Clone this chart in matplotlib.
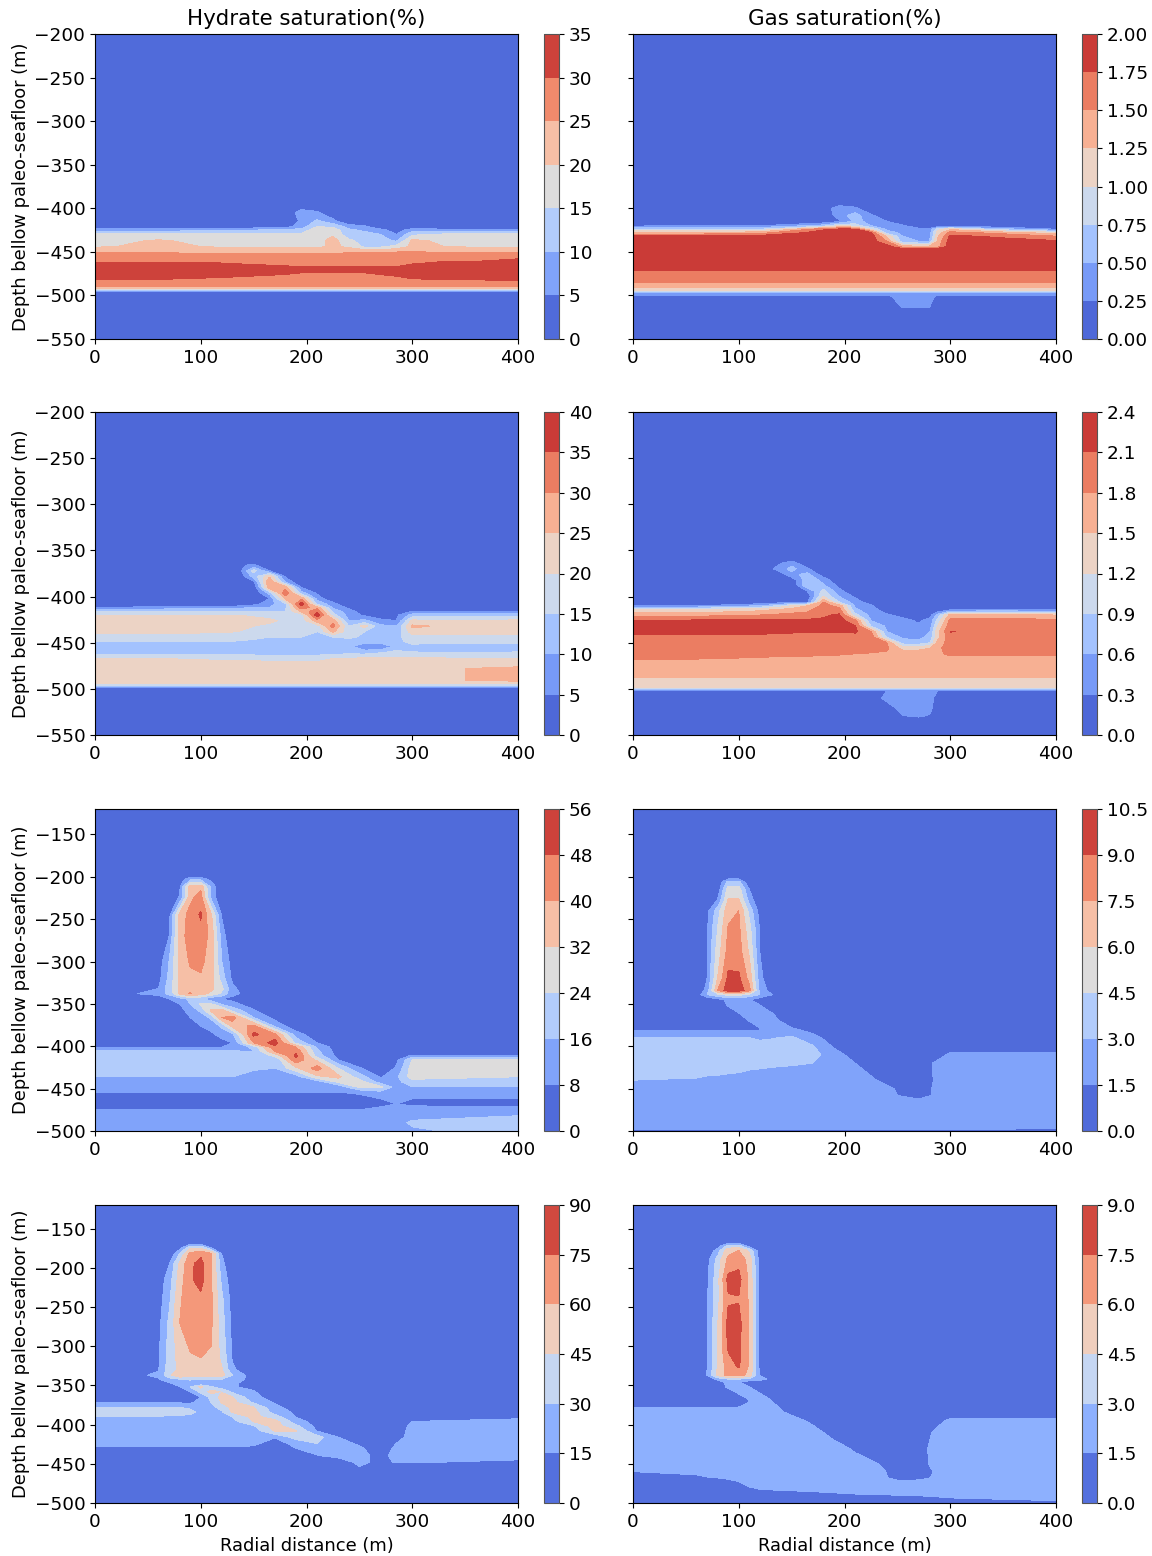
import matplotlib
matplotlib.use('Agg')
import matplotlib.pyplot as plt
import numpy as np

# radial stations (m), depth rows (m) and saturation, one table per panel

# ---- row 1, hydrate
R1 = [0, 60, 120, 180, 195, 210, 225, 240, 255, 270, 285, 300, 330, 360, 400]
D1 = [-200, -396, -405, -415, -421, -425, -430, -437, -444, -451, -458, -464, -470, -476, -482, -489, -492, -495, -500, -550]
S1 = [
    [0]*15,
    [0]*15,
    [0, 0, 0, 0, 8, 6, 0, 0, 0, 0, 0, 0, 0, 0, 0],
    [0, 0, 0, 0, 6, 11, 7, 0, 0, 0, 0, 0, 0, 0, 0],
    [0, 0, 0, 3, 7, 15, 14, 8, 6, 0, 0, 0, 0, 0, 0],
    [8, 8, 9, 11, 12, 18, 18, 11, 9, 7, 2, 8, 7, 7, 7],
    [16, 16, 16, 16, 16, 18, 19, 12, 12, 10, 5, 14, 16, 16, 16],
    [18, 20.5, 18, 18, 18, 18, 22, 16, 13, 12, 9, 21, 19, 18, 18],
    [19.5, 21, 19.5, 19, 19, 19, 21, 19, 14, 14, 17, 21, 20, 19.5, 19.5],
    [25, 25, 24.5, 24.5, 24.5, 24.5, 24.5, 25, 26, 26, 26, 26, 25, 25, 25],
    [28, 28, 28, 28, 28, 28, 28, 28, 28, 28, 29, 29, 29, 29, 30],
    [31, 31, 30.5, 29, 29, 29, 29, 29, 29, 29, 29, 30, 31, 31, 32],
    [33, 33, 33, 32, 31, 31, 31, 31, 31, 31, 31, 32, 33, 33, 33],
    [33, 33, 32, 30, 29.5, 29.5, 29.5, 29.5, 29.5, 30, 31, 32, 33, 33, 33],
    [30, 29.8, 28.5, 27, 27, 27, 26.5, 26.5, 27, 27, 28, 29.5, 30, 30, 31],
    [25.5]*15,
    [19]*15,
    [5]*15,
    [0]*15,
    [0]*15,
]
L1 = [0, 5, 10, 15, 20, 25, 30, 35]

# ---- row 1, gas
R2 = [0, 60, 120, 180, 195, 210, 225, 240, 255, 270, 280, 288, 300, 350, 400]
D2 = [-200, -392, -400, -408, -415, -420, -424, -428, -432, -438, -444, -447, -460, -471, -478, -485, -491, -494, -497, -501, -507, -514, -520, -550]
S2 = [
    [0]*15,
    [0]*15,
    [0, 0, 0, 0.1, 0.4, 0.3, 0, 0, 0, 0, 0, 0, 0, 0, 0],
    [0, 0, 0, 0, 0.4, 0.6, 0.3, 0, 0, 0, 0, 0, 0, 0, 0],
    [0, 0, 0, 0.05, 0.2, 0.55, 0.45, 0.25, 0, 0, 0, 0, 0, 0, 0],
    [0.2, 0.25, 0.25, 0.6, 1.0, 0.9, 0.5, 0.4, 0.3, 0, 0, 0, 0, 0, 0],
    [0.7, 0.7, 0.75, 1.7, 1.8, 1.8, 1.0, 0.45, 0.4, 0.35, 0.3, 0.9, 1.2, 0.6, 0.25],
    [1.3, 1.3, 1.4, 1.9, 1.9, 1.9, 1.8, 0.6, 0.45, 0.4, 0.35, 1.1, 1.6, 1.4, 1.1],
    [1.8, 1.8, 1.85, 1.9, 1.9, 1.9, 1.9, 1.2, 0.5, 0.4, 0.35, 1.2, 1.8, 1.7, 1.5],
    [1.9, 1.9, 1.9, 1.9, 1.9, 1.9, 1.9, 1.5, 0.6, 0.5, 0.5, 1.3, 1.9, 1.85, 1.8],
    [1.9, 1.9, 1.9, 1.9, 1.9, 1.9, 1.9, 1.9, 1.4, 1.3, 1.3, 1.4, 1.9, 1.9, 1.9],
    [1.9]*15,
    [1.9]*15,
    [1.75]*15,
    [1.62]*15,
    [1.5]*15,
    [1.27]*15,
    [1.0]*15,
    [0.42]*15,
    [0.2, 0.2, 0.2, 0.2, 0.2, 0.2, 0.2, 0.2, 0.35, 0.35, 0.35, 0.2, 0.2, 0.2, 0.2],
    [0, 0, 0, 0, 0, 0, 0, 0.1, 0.35, 0.35, 0.35, 0.05, 0, 0, 0],
    [0, 0, 0, 0, 0, 0, 0, 0, 0.26, 0.26, 0.26, 0, 0, 0, 0],
    [0]*15,
    [0]*15,
]
L2 = [0, 0.25, 0.5, 0.75, 1.0, 1.25, 1.5, 1.75, 2.0]

# ---- row 2, hydrate
R3 = [0, 60, 120, 135, 150, 165, 180, 195, 210, 225, 240, 255, 270, 285, 300, 350, 400]
D3 = [-200, -360, -366, -372, -378, -384, -390, -396, -402, -408, -412, -416, -420, -426, -432, -438, -444, -449, -454, -460, -467, -478, -491, -494, -496, -499, -503, -550]
S3 = [
    [0]*17,
    [0]*17,
    [0, 0, 0, 4, 6, 0, 0, 0, 0, 0, 0, 0, 0, 0, 0, 0, 0],
    [0, 0, 0, 1, 17, 5, 0, 0, 0, 0, 0, 0, 0, 0, 0, 0, 0],
    [0, 0, 0, 0, 12, 24, 4, 0, 0, 0, 0, 0, 0, 0, 0, 0, 0],
    [0, 0, 0, 0, 4, 30, 9, 0, 0, 0, 0, 0, 0, 0, 0, 0, 0],
    [0, 0, 0, 0, 0, 28, 28, 5, 0, 0, 0, 0, 0, 0, 0, 0, 0],
    [0, 0, 0, 0, 0, 12, 34, 12, 4, 0, 0, 0, 0, 0, 0, 0, 0],
    [0, 0, 0, 0, 0, 5, 26, 29, 8, 0, 0, 0, 0, 0, 0, 0, 0],
    [0, 0, 0, 0, 3, 8, 14, 38, 14, 7, 0, 0, 0, 0, 0, 0, 0],
    [5, 7, 8, 9, 10, 10, 14, 32, 28, 9, 4, 0, 0, 0, 0, 0, 0],
    [15, 15, 15, 15, 15, 15, 15, 26, 34, 14, 7, 2, 0, 0, 5, 4, 5],
    [20, 20, 20, 20, 19, 18, 17, 17, 38, 17, 8, 4, 0, 4, 12, 13, 13],
    [22, 22, 22, 22, 22, 21, 19, 17, 28, 28, 10, 11, 7, 5, 21, 20, 21],
    [23, 23, 22, 21, 20, 19, 18, 17, 17, 32, 15, 22, 11, 10, 26, 23, 23],
    [21.5, 21, 20.5, 20, 19, 18, 17, 16, 15, 26, 17, 15, 14, 11, 23, 23, 22],
    [18, 18, 18, 17, 16, 15, 15, 15, 15, 15, 16, 14, 14, 14, 17, 18, 18],
    [15, 15, 15, 14.5, 14, 13, 13, 13, 13, 13, 12, 12, 13, 14, 16, 16, 16],
    [12, 12, 11, 11, 11, 11, 11, 11, 11, 12, 11, 6, 4, 12, 14, 13, 13],
    [11, 11, 11, 11, 11, 11, 11, 11, 11, 12, 13, 12, 14, 16, 15, 14.5, 15],
    [20, 20, 19.5, 19.5, 19.5, 19, 19, 19, 19, 20, 20, 21, 21, 21, 21, 20, 20],
    [22, 22, 22, 22, 22, 22, 22, 22, 22, 22, 22, 22, 22, 22, 22, 25, 26],
    [21.5, 21.5, 21.5, 21.5, 21.5, 21.5, 21.5, 21.5, 21.5, 21.5, 21.5, 21.5, 21.5, 21.5, 21.5, 25, 26],
    [20, 20, 20, 20, 20, 20, 20, 20, 20, 20, 20, 20, 20, 20, 20, 21, 21],
    [15]*17,
    [3]*17,
    [0]*17,
    [0]*17,
]
L3 = [0, 5, 10, 15, 20, 25, 30, 35, 40]

# ---- row 2, gas
R4 = [0, 60, 120, 135, 150, 165, 180, 195, 210, 225, 240, 255, 270, 281, 288, 300, 350, 400]
D4 = [-200, -358, -364, -370, -376, -382, -388, -394, -400, -406, -410, -414, -420, -426, -432, -438, -444, -450, -456, -462, -470, -480, -488, -494, -498, -502, -510, -520, -529, -535, -550]
S4 = [
    [0]*18,
    [0]*18,
    [0, 0, 0, 0.2, 0.5, 0, 0, 0, 0, 0, 0, 0, 0, 0, 0, 0, 0, 0],
    [0, 0, 0, 0.35, 0.7, 0.35, 0, 0, 0, 0, 0, 0, 0, 0, 0, 0, 0, 0],
    [0, 0, 0, 0, 0.5, 0.7, 0.1, 0, 0, 0, 0, 0, 0, 0, 0, 0, 0, 0],
    [0, 0, 0, 0, 0.1, 0.8, 0.5, 0, 0, 0, 0, 0, 0, 0, 0, 0, 0, 0],
    [0, 0, 0, 0, 0, 0.85, 0.65, 0.2, 0, 0, 0, 0, 0, 0, 0, 0, 0, 0],
    [0, 0, 0, 0, 0, 0.3, 1.0, 0.4, 0, 0, 0, 0, 0, 0, 0, 0, 0, 0],
    [0, 0, 0, 0, 0, 0.1, 1.2, 0.6, 0.25, 0, 0, 0, 0, 0, 0, 0, 0, 0],
    [0, 0, 0.05, 0.1, 0.15, 0.25, 1.8, 0.9, 0.45, 0.15, 0, 0, 0, 0, 0, 0, 0, 0],
    [0.3, 0.3, 0.6, 0.9, 1.2, 1.5, 1.9, 1.7, 0.55, 0.35, 0, 0, 0, 0, 0, 0, 0, 0],
    [1.2, 1.2, 1.4, 1.5, 1.6, 1.7, 2.0, 1.9, 0.65, 0.45, 0.1, 0, 0, 0, 0, 0.2, 0.25, 0.2],
    [1.7, 1.7, 1.8, 1.85, 1.9, 1.9, 2.05, 2.15, 1.0, 0.5, 0.35, 0.2, 0, 0.2, 0.7, 1.6, 1.6, 1.5],
    [2.1, 2.15, 2.15, 2.15, 2.15, 2.15, 2.15, 2.2, 1.9, 0.6, 0.5, 0.4, 0.25, 0.4, 1.0, 1.9, 1.9, 1.9],
    [2.25, 2.25, 2.25, 2.25, 2.25, 2.25, 2.2, 2.15, 2.12, 0.9, 0.55, 0.5, 0.35, 0.5, 1.2, 2.0, 1.95, 1.95],
    [2.2, 2.2, 2.2, 2.15, 2.15, 2.12, 2.12, 2.12, 2.15, 1.8, 0.6, 0.5, 0.4, 0.6, 1.4, 2.11, 2.0, 1.95],
    [2.0, 2.0, 2.0, 2.0, 1.95, 1.95, 1.95, 1.95, 1.95, 2.0, 0.85, 0.55, 0.5, 0.7, 1.4, 2.0, 2.0, 2.0],
    [1.95, 1.95, 1.95, 1.95, 1.95, 1.95, 1.95, 1.95, 1.95, 1.95, 1.8, 0.75, 0.7, 0.9, 1.6, 1.95, 1.95, 1.95],
    [1.9, 1.9, 1.9, 1.9, 1.9, 1.9, 1.9, 1.9, 1.9, 1.9, 1.85, 1.4, 1.4, 1.5, 1.75, 1.9, 1.9, 1.9],
    [1.85, 1.85, 1.85, 1.85, 1.85, 1.85, 1.83, 1.82, 1.8, 1.78, 1.75, 1.7, 1.7, 1.7, 1.78, 1.82, 1.82, 1.82],
    [1.78, 1.78, 1.75, 1.72, 1.7, 1.7, 1.7, 1.7, 1.7, 1.7, 1.65, 1.65, 1.65, 1.65, 1.7, 1.75, 1.75, 1.75],
    [1.6]*18,
    [1.5]*18,
    [1.38]*18,
    [1.2]*18,
    [0.3, 0.3, 0.3, 0.3, 0.3, 0.3, 0.3, 0.3, 0.3, 0.3, 0.3, 0.45, 0.45, 0.45, 0.3, 0.3, 0.3, 0.3],
    [0, 0, 0, 0, 0, 0, 0, 0, 0, 0.1, 0.4, 0.45, 0.45, 0.45, 0.1, 0, 0, 0],
    [0, 0, 0, 0, 0, 0, 0, 0, 0, 0, 0.15, 0.45, 0.45, 0.45, 0, 0, 0, 0],
    [0, 0, 0, 0, 0, 0, 0, 0, 0, 0, 0, 0.3, 0.4, 0.25, 0, 0, 0, 0],
    [0]*18,
    [0]*18,
]
L4 = [0, 0.3, 0.6, 0.9, 1.2, 1.5, 1.8, 2.1, 2.4]

# ---- rows 3 and 4 share the radial stations
R5 = [0, 60, 70, 80, 90, 100, 110, 120, 130, 150, 170, 190, 210, 230, 250, 270, 285, 300, 400]

# ---- row 3, hydrate
D5 = [-120, -198, -203, -212, -225, -245, -270, -300, -320, -332, -338, -344, -350, -358, -366, -376, -386, -396, -401, -406, -411, -416, -426, -436, -442, -448, -454, -462, -468, -475, -482, -490, -500]
S5 = [
    [0]*19,
    [0]*19,
    [0, 0, 0, 3, 14, 14, 5, 0, 0, 0, 0, 0, 0, 0, 0, 0, 0, 0, 0],
    [0, 0, 0, 6, 38, 38, 14, 0, 0, 0, 0, 0, 0, 0, 0, 0, 0, 0, 0],
    [0, 0, 0, 9, 38, 44, 14, 0, 0, 0, 0, 0, 0, 0, 0, 0, 0, 0, 0],
    [0, 0, 5, 35, 43, 49, 33, 7, 0, 0, 0, 0, 0, 0, 0, 0, 0, 0, 0],
    [0, 0, 8, 36, 44, 45, 37, 12, 0, 0, 0, 0, 0, 0, 0, 0, 0, 0, 0],
    [0, 3, 16, 34, 41, 42, 36, 16, 4, 0, 0, 0, 0, 0, 0, 0, 0, 0, 0],
    [0, 5, 18, 33, 38, 39, 36, 20, 6, 0, 0, 0, 0, 0, 0, 0, 0, 0, 0],
    [0, 8, 20, 34, 36, 36, 34, 26, 10, 0, 0, 0, 0, 0, 0, 0, 0, 0, 0],
    [0, 12, 18, 33, 41, 35, 30, 22, 10, 4, 0, 0, 0, 0, 0, 0, 0, 0, 0],
    [0, 0, 8, 12, 18, 18, 10, 8, 6, 3, 0, 0, 0, 0, 0, 0, 0, 0, 0],
    [0, 0, 2, 8, 16, 25, 24, 14, 10, 4, 0, 0, 0, 0, 0, 0, 0, 0, 0],
    [0, 0, 0, 6, 10, 18, 34, 36, 22, 9, 1, 0, 0, 0, 0, 0, 0, 0, 0],
    [0, 0, 0, 0, 8, 10, 18, 40, 44, 16, 5, 0, 0, 0, 0, 0, 0, 0, 0],
    [0, 0, 0, 0, 0, 8, 10, 18, 35, 42, 14, 2, 0, 0, 0, 0, 0, 0, 0],
    [0, 0, 0, 0, 0, 0, 7, 10, 14, 50, 42, 12, 2, 0, 0, 0, 0, 0, 0],
    [0, 0, 0, 0, 0, 0, 0, 6, 8, 40, 52, 22, 8, 0, 0, 0, 0, 0, 0],
    [8, 8, 8, 8, 8, 8, 7, 8, 9, 18, 46, 40, 15, 3, 0, 0, 0, 0, 0],
    [17, 17, 17, 17, 17, 17, 17, 17, 17, 16, 40, 46, 18, 4, 0, 0, 0, 0, 0],
    [19, 19, 19, 19, 19, 19, 19, 19, 18, 17, 26, 50, 20, 5, 0, 0, 2, 9, 9],
    [20, 20, 20, 20, 20, 20, 20, 20, 20, 18, 16, 46, 30, 8, 1, 0, 6, 24, 24],
    [20, 20, 20, 20, 20, 20, 20, 20, 20, 17, 16, 30, 44, 24, 9, 2, 9, 28, 28],
    [16, 16, 16, 16, 16, 16, 16, 16, 16, 13, 13, 12, 30, 34, 20, 7, 14, 28, 24],
    [14, 14, 14, 14, 14, 14, 14, 14, 14, 12, 11, 10, 11, 26, 28, 12, 14, 20, 20],
    [11, 11, 11, 11, 11, 11, 11, 11, 11, 10, 10, 9, 9, 10, 26, 26, 12, 16, 16],
    [8, 8, 8, 8, 8, 8, 8, 8, 8, 8, 8, 8.5, 8, 8, 9, 14, 12, 11, 11],
    [5, 5, 5, 5, 5, 5, 5, 5, 5, 5, 5, 5, 5, 5, 6, 8, 10, 8, 8],
    [6, 6, 6, 6, 6, 6, 6, 6, 6, 6, 6, 6, 6, 6, 6, 7, 8, 7, 6],
    [8, 8, 8, 8, 8, 8, 8, 8, 8, 8, 8, 8, 8, 8, 8, 9, 9, 10, 10],
    [11, 11, 11, 11, 11, 11, 11, 11, 11, 11, 11, 11, 11, 11, 11, 11, 12, 14, 16],
    [13, 13, 13, 13, 13, 13, 13, 13, 13, 13, 13, 13, 13, 13, 13, 13, 14, 17, 20],
    [14, 14, 14, 14, 14, 14, 14, 14, 14, 14, 14, 14, 14, 14, 14, 14, 14, 15, 19],
]
L5 = [0, 8, 16, 24, 32, 40, 48, 56]

# ---- row 3, gas
D6 = [-120, -200, -206, -215, -228, -240, -260, -290, -320, -334, -339, -345, -352, -360, -370, -378, -382, -390, -400, -410, -420, -430, -440, -450, -458, -464, -490, -497, -500]
S6 = [
    [0]*19,
    [0]*19,
    [0, 0, 0, 0, 3.5, 3.5, 0, 0, 0, 0, 0, 0, 0, 0, 0, 0, 0, 0, 0],
    [0, 0, 0, 0.5, 5.2, 5.2, 1.5, 0, 0, 0, 0, 0, 0, 0, 0, 0, 0, 0, 0],
    [0, 0, 0, 1.6, 6.2, 6.2, 2.5, 0, 0, 0, 0, 0, 0, 0, 0, 0, 0, 0, 0],
    [0, 0, 1, 3.8, 7, 7.5, 4, 0.8, 0, 0, 0, 0, 0, 0, 0, 0, 0, 0, 0],
    [0, 0, 1.3, 4.5, 7.6, 7.8, 5, 1.3, 0, 0, 0, 0, 0, 0, 0, 0, 0, 0, 0],
    [0, 0, 1.5, 5.2, 8.1, 8.2, 5.8, 1.5, 0, 0, 0, 0, 0, 0, 0, 0, 0, 0, 0],
    [0, 0, 1.5, 6, 9.4, 9.3, 7, 2.1, 0, 0, 0, 0, 0, 0, 0, 0, 0, 0, 0],
    [0, 0, 2, 7.5, 10, 10, 8, 2.5, 1, 0, 0, 0, 0, 0, 0, 0, 0, 0, 0],
    [0, 0.5, 3, 4, 5, 5, 4, 3, 1.7, 0, 0, 0, 0, 0, 0, 0, 0, 0, 0],
    [0, 0, 0, 1, 1.8, 2, 1.6, 0.5, 0, 0, 0, 0, 0, 0, 0, 0, 0, 0, 0],
    [0, 0, 0, 0, 1.7, 2, 2, 1.6, 0, 0, 0, 0, 0, 0, 0, 0, 0, 0, 0],
    [0, 0, 0, 0, 0, 1.6, 2, 2, 1.6, 0, 0, 0, 0, 0, 0, 0, 0, 0, 0],
    [0, 0, 0, 0, 0, 0, 1.6, 2, 2, 0.8, 0, 0, 0, 0, 0, 0, 0, 0, 0],
    [0, 0, 0, 0, 0, 0, 0, 1.6, 2, 1.5, 0, 0, 0, 0, 0, 0, 0, 0, 0],
    [1.8, 1.8, 1.8, 1.8, 1.8, 1.8, 1.7, 1.5, 2.2, 2.2, 1, 0, 0, 0, 0, 0, 0, 0, 0],
    [3.1, 3, 3, 3, 3, 3, 3, 2.8, 2.9, 3.2, 2.2, 0.5, 0, 0, 0, 0, 0, 0, 0],
    [3.5, 3.5, 3.5, 3.5, 3.5, 3.5, 3.5, 3.5, 3.5, 3.6, 3.1, 1.3, 0, 0, 0, 0, 0, 0, 0],
    [3.6, 3.6, 3.6, 3.6, 3.6, 3.6, 3.6, 3.6, 3.6, 3.6, 3.5, 2.2, 0.8, 0, 0, 0, 0, 2, 2],
    [3.4, 3.4, 3.4, 3.4, 3.4, 3.4, 3.4, 3.4, 3.3, 3.2, 3, 3, 1.5, 0, 0, 0, 1.7, 2, 2],
    [3.4, 3.3, 3.2, 3.15, 3.1, 3.05, 2.9, 2.8, 2.7, 2.5, 2.4, 2.3, 2.2, 0.8, 0, 0, 1.7, 2, 2],
    [3, 2.9, 2.8, 2.8, 2.7, 2.6, 2.5, 2.4, 2.3, 2.2, 2.2, 2.2, 2.2, 1.5, 0, 0, 1.6, 2, 2],
    [2.5, 2.4, 2.4, 2.3, 2.3, 2.2, 2.2, 2.2, 2.2, 2.2, 2.2, 2.2, 2.2, 2.1, 1.4, 0.5, 1.7, 2.2, 2.2],
    [2.2, 2.2, 2.2, 2.2, 2.2, 2.2, 2.2, 2.2, 2.2, 2.2, 2.2, 2.2, 2.2, 2.2, 1.5, 1, 1.6, 2.2, 2.2],
    [2.2, 2.2, 2.2, 2.2, 2.2, 2.2, 2.2, 2.2, 2.2, 2.2, 2.2, 2.2, 2.2, 2.2, 1.9, 1.7, 1.9, 2.2, 2.2],
    [2]*19,
    [1.7, 1.7, 1.7, 1.7, 1.7, 1.7, 1.7, 1.7, 1.7, 1.7, 1.7, 1.65, 1.65, 1.65, 1.6, 1.6, 1.6, 1.6, 1.55],
    [1.3, 1.3, 1.3, 1.3, 1.3, 1.3, 1.3, 1.3, 1.3, 1.3, 1.3, 1.3, 1.3, 1.3, 1.3, 1.3, 1.3, 1.3, 1.2],
]
L6 = [0, 1.5, 3.0, 4.5, 6.0, 7.5, 9.0, 10.5]

# ---- row 4, hydrate
D7 = [-120, -168, -174, -182, -195, -215, -240, -270, -300, -315, -330, -337, -342, -347, -352, -358, -365, -372, -378, -384, -390, -396, -402, -408, -416, -424, -430, -440, -448, -455, -460, -500]
S7 = [
    [0]*19,
    [0]*19,
    [0, 0, 0, 5, 40, 40, 10, 0, 0, 0, 0, 0, 0, 0, 0, 0, 0, 0, 0],
    [0, 0, 0, 30, 64, 72, 62, 14, 0, 0, 0, 0, 0, 0, 0, 0, 0, 0, 0],
    [0, 0, 14, 48, 72, 80, 62, 20, 0, 0, 0, 0, 0, 0, 0, 0, 0, 0, 0],
    [0, 6, 22, 52, 73, 80, 62, 26, 5, 0, 0, 0, 0, 0, 0, 0, 0, 0, 0],
    [0, 8, 26, 58, 68, 72, 62, 33, 8, 0, 0, 0, 0, 0, 0, 0, 0, 0, 0],
    [0, 10, 33, 60, 66, 67, 62, 36, 10, 0, 0, 0, 0, 0, 0, 0, 0, 0, 0],
    [0, 12, 35, 52, 62, 63, 60, 39, 12, 0, 0, 0, 0, 0, 0, 0, 0, 0, 0],
    [0, 13, 36, 50, 58, 60, 56, 42, 13, 0, 0, 0, 0, 0, 0, 0, 0, 0, 0],
    [0, 14, 37, 48, 50, 50, 49, 46, 18, 0, 0, 0, 0, 0, 0, 0, 0, 0, 0],
    [0, 18, 40, 60, 50, 50, 50, 50, 30, 5, 0, 0, 0, 0, 0, 0, 0, 0, 0],
    [0, 14, 25, 30, 32, 30, 32, 30, 25, 8, 0, 0, 0, 0, 0, 0, 0, 0, 0],
    [0, 0, 14, 22, 24, 14, 14, 28, 18, 8, 0, 0, 0, 0, 0, 0, 0, 0, 0],
    [0, 0, 0, 14, 30, 48, 32, 20, 16, 12, 0, 0, 0, 0, 0, 0, 0, 0, 0],
    [0, 0, 0, 0, 15, 35, 50, 44, 26, 16, 5, 0, 0, 0, 0, 0, 0, 0, 0],
    [0, 0, 0, 0, 0, 15, 36, 50, 46, 18, 10, 0, 0, 0, 0, 0, 0, 0, 0],
    [14, 14, 14, 14, 13, 20, 30, 46, 50, 28, 14, 5, 0, 0, 0, 0, 0, 0, 0],
    [30, 30, 30, 30, 26, 22, 26, 35, 50, 46, 18, 10, 0, 0, 0, 0, 0, 0, 0],
    [38, 38, 38, 38, 36, 24, 24, 28, 47, 50, 24, 12, 4, 0, 0, 0, 0, 0, 0],
    [30, 29, 28, 27, 24, 22, 22, 24, 30, 50, 36, 14, 4, 0, 0, 0, 0, 0, 11],
    [25, 25, 25, 25, 24, 23, 22, 22, 25, 46, 50, 22, 8, 0, 0, 0, 0, 15, 20],
    [24, 24, 24, 24, 24, 24, 24, 24, 24, 28, 52, 34, 10, 2, 0, 0, 3, 20, 22],
    [24, 24, 24, 24, 24, 24, 24, 24, 23, 22, 46, 46, 14, 5, 0, 0, 5, 22, 22],
    [23, 23, 23, 23, 23, 23, 23, 23, 23, 16, 16, 36, 36, 15, 4, 0, 8, 22, 22],
    [21, 21, 21, 21, 21, 21, 21, 21, 21, 18, 8, 20, 30, 22, 12, 1, 15, 22, 22],
    [13, 13, 13, 13, 13, 13, 13, 13, 13, 12, 3, 15, 22, 28, 18, 4, 19, 22, 22],
    [0, 0, 0, 0, 0, 0, 0, 0, 0, 0, 0, 5, 14, 18, 22, 8, 22, 22, 20],
    [0, 0, 0, 0, 0, 0, 0, 0, 0, 0, 0, 0, 2, 8, 18, 12, 16, 16, 12],
    [0, 0, 0, 0, 0, 0, 0, 0, 0, 0, 0, 0, 0, 0, 14, 10, 5, 5, 5],
    [0]*19,
    [0]*19,
]
L7 = [0, 15, 30, 45, 60, 75, 90]

# ---- row 4, gas
D8 = [-120, -167, -172, -178, -190, -215, -240, -270, -300, -325, -337, -342, -346, -352, -360, -368, -372, -378, -384, -395, -410, -430, -450, -460, -468, -475, -484, -490, -497, -500]
S8 = [
    [0]*19,
    [0]*19,
    [0, 0, 0, 0.5, 3.5, 3.5, 0.5, 0, 0, 0, 0, 0, 0, 0, 0, 0, 0, 0, 0],
    [0, 0, 0, 2.2, 5.5, 6, 4.2, 0.5, 0, 0, 0, 0, 0, 0, 0, 0, 0, 0, 0],
    [0, 0, 0.9, 3.6, 6.4, 7, 5.4, 0.8, 0, 0, 0, 0, 0, 0, 0, 0, 0, 0, 0],
    [0, 0, 1.2, 4, 8, 8, 5.7, 1, 0, 0, 0, 0, 0, 0, 0, 0, 0, 0, 0],
    [0, 0, 1.3, 4, 7.3, 7.4, 5.8, 1, 0, 0, 0, 0, 0, 0, 0, 0, 0, 0, 0],
    [0, 0, 1.3, 4.4, 8, 8, 5.8, 1, 0, 0, 0, 0, 0, 0, 0, 0, 0, 0, 0],
    [0, 0, 1.3, 4.6, 7.8, 7.9, 5.8, 1, 0, 0, 0, 0, 0, 0, 0, 0, 0, 0, 0],
    [0, 0, 1.4, 4.6, 6.8, 7.7, 5.8, 1, 0, 0, 0, 0, 0, 0, 0, 0, 0, 0, 0],
    [0, 0, 1.6, 4.8, 6.6, 6.7, 5.5, 1.4, 0, 0, 0, 0, 0, 0, 0, 0, 0, 0, 0],
    [0, 0, 0, 2, 3, 3, 2.5, 2.5, 1, 0, 0, 0, 0, 0, 0, 0, 0, 0, 0],
    [0, 0, 0, 0.5, 2, 1.6, 0.5, 0, 0, 0, 0, 0, 0, 0, 0, 0, 0, 0, 0],
    [0, 0, 0, 0, 2, 2, 1.5, 0, 0, 0, 0, 0, 0, 0, 0, 0, 0, 0, 0],
    [0, 0, 0, 0, 0, 1.7, 2, 1.5, 0, 0, 0, 0, 0, 0, 0, 0, 0, 0, 0],
    [0, 0, 0, 0, 0, 0, 1.6, 2, 1.5, 0, 0, 0, 0, 0, 0, 0, 0, 0, 0],
    [0, 0, 0, 0, 0, 0, 1.6, 2, 1.7, 0, 0, 0, 0, 0, 0, 0, 0, 0, 0],
    [1.5, 1.5, 1.5, 1.5, 1.5, 1.6, 1.8, 2, 2, 0.8, 0, 0, 0, 0, 0, 0, 0, 0, 0],
    [2, 2, 2, 2, 2, 2, 2, 2, 2, 1.2, 0, 0, 0, 0, 0, 0, 0, 0, 0],
    [2, 2, 2, 2, 2, 2, 2, 2, 2, 2, 1.2, 0, 0, 0, 0, 0, 0.5, 2, 2],
    [2, 2, 2, 2, 2, 2, 2, 2, 2, 2, 2, 1, 0, 0, 0, 0, 1.8, 2, 2],
    [2, 2, 2, 2, 2, 2, 2, 2, 2, 2, 2, 2, 1.3, 0.3, 0, 0.8, 2, 2, 2],
    [2, 2, 2, 2, 2, 2, 2, 2, 2, 2, 2, 2, 2, 1.6, 0.3, 1, 1.8, 2, 2],
    [1.5, 1.7, 1.8, 1.9, 2, 2, 2, 2, 2, 2, 2, 2, 2, 2, 0.9, 0.9, 1.55, 2, 2],
    [1.1, 1.3, 1.45, 1.5, 1.6, 1.7, 2, 2, 2, 2, 2, 2, 2, 2, 1.1, 1.2, 1.6, 2, 2],
    [0.8, 0.9, 1, 1.1, 1.2, 1.4, 1.7, 2, 2, 2, 2, 2, 2, 2, 2, 2, 2, 2, 2],
    [0, 0, 0.5, 0.5, 0.5, 0.5, 1.3, 1.4, 1.45, 1.55, 1.6, 1.7, 1.8, 1.9, 1.9, 1.9, 1.9, 1.9, 1.9],
    [0.8, 0.8, 0.8, 0.8, 0.8, 0.8, 0.8, 0.8, 0.8, 0.8, 1.2, 1.3, 1.4, 1.45, 1.5, 1.55, 1.6, 1.7, 1.9],
    [1, 1, 1, 1, 1, 1, 1, 1, 1, 1, 1, 1, 1, 1, 1, 1.1, 1.2, 1.3, 1.5],
    [0.8]*19,
]
L8 = [0, 1.5, 3.0, 4.5, 6.0, 7.5, 9.0]

W, H = 1152, 1556
fig = plt.figure(figsize=(W / 100, H / 100), dpi=100)
plt.rcParams['font.size'] = 13.3


def place(x0, x1, y0, y1):
    return [x0 / W, 1 - y1 / H, (x1 - x0) / W, (y1 - y0) / H]


def panel(R, D, S, L, col, row_span, ylim, yticks, left):
    x0, x1, c0, c1 = col
    ax = fig.add_axes(place(x0, x1, *row_span))
    cs = ax.contourf(R, D, np.array(S, dtype=float), levels=L, cmap='coolwarm')
    ax.set_xlim(0, 400)
    ax.set_ylim(*ylim)
    ax.set_xticks([0, 100, 200, 300, 400])
    ax.set_yticks(yticks)
    ax.tick_params(labelsize=13.3)
    if left:
        ax.set_ylabel('Depth bellow paleo-seafloor (m)', fontsize=12.9, labelpad=3)
    else:
        ax.set_yticklabels([])
    cax = fig.add_axes(place(c0, c1, *row_span))
    cb = fig.colorbar(cs, cax=cax, ticks=L)
    cb.ax.tick_params(labelsize=13.3)
    cb.outline.set_edgecolor('#555555')
    return ax


left_col = (95, 518, 544, 559)
right_col = (633, 1056, 1082, 1097)
rows = [(34, 339), (412, 735), (809, 1131), (1205, 1503)]
ticks_a = [-200, -250, -300, -350, -400, -450, -500, -550]
ticks_b = [-150, -200, -250, -300, -350, -400, -450, -500]

a1 = panel(R1, D1, S1, L1, left_col, rows[0], (-550, -200), ticks_a, True)
a2 = panel(R2, D2, S2, L2, right_col, rows[0], (-550, -200), ticks_a, False)
a3 = panel(R3, D3, S3, L3, left_col, rows[1], (-550, -200), ticks_a, True)
a4 = panel(R4, D4, S4, L4, right_col, rows[1], (-550, -200), ticks_a, False)
a5 = panel(R5, D5, S5, L5, left_col, rows[2], (-500, -120), ticks_b, True)
a6 = panel(R5, D6, S6, L6, right_col, rows[2], (-500, -120), ticks_b, False)
a7 = panel(R5, D7, S7, L7, left_col, rows[3], (-500, -120), ticks_b, True)
a8 = panel(R5, D8, S8, L8, right_col, rows[3], (-500, -120), ticks_b, False)

a1.set_title('Hydrate saturation(%)', fontsize=15.4, pad=6.5)
a2.set_title('Gas saturation(%)', fontsize=15.4, pad=6.5)
a7.set_xlabel('Radial distance (m)', fontsize=12.9, labelpad=4.5)
a8.set_xlabel('Radial distance (m)', fontsize=12.9, labelpad=4.5)

fig.savefig('out.png', dpi=100)
